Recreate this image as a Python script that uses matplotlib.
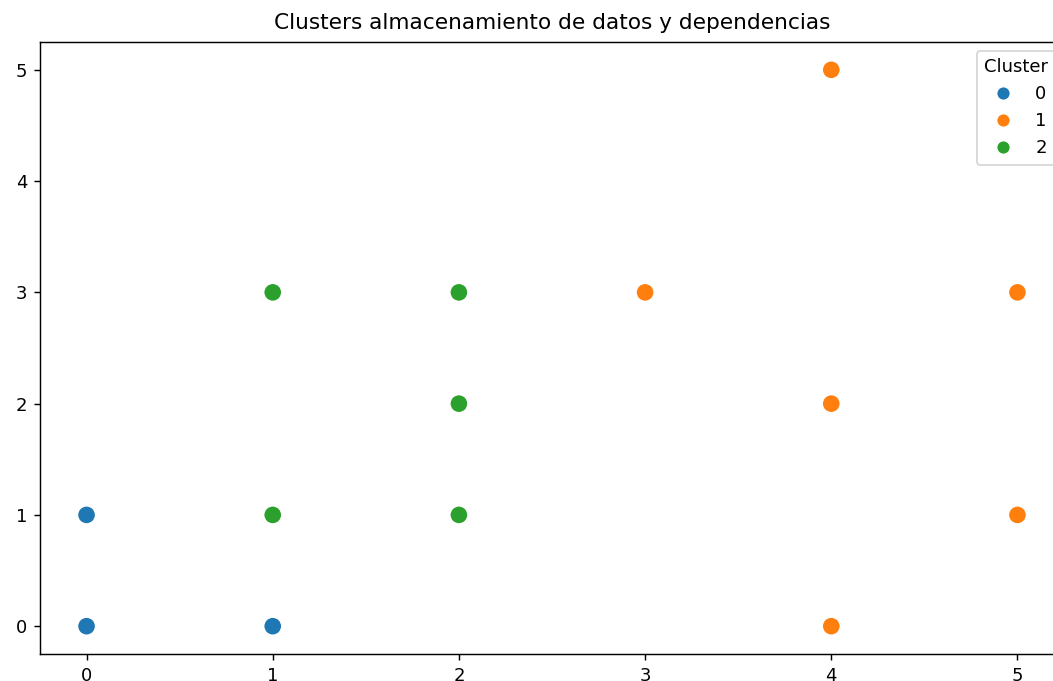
import matplotlib
matplotlib.use("Agg")
import matplotlib.pyplot as plt
from matplotlib.lines import Line2D
import seaborn as sns
import pandas as pd

x_vals = [0, 0, 1, 4, 3, 5, 4, 5, 4, 1, 2, 2, 1, 2]
y_vals = [0, 1, 0, 5, 3, 3, 2, 1, 0, 3, 3, 2, 1, 1]
clusters = [0, 0, 0, 1, 1, 1, 1, 1, 1, 2, 2, 2, 2, 2]
cluster_labels = [0, 1, 2]
colors = ["#1f77b4", "#ff7f0e", "#2ca02c"]

df = pd.DataFrame({"x": x_vals, "y": y_vals, "Cluster": clusters})

DPI = 130
W, H = 1053, 681
fig = plt.figure(figsize=(W / DPI, H / DPI), dpi=DPI)
ax = fig.add_axes([40 / W, (H - 654) / H, 1024 / W, 612 / H])
sns.scatterplot(data=df, x="x", y="y", hue="Cluster", palette=colors, s=100,
                ax=ax, legend=False)
ax.set_title("Clusters almacenamiento de datos y dependencias", pad=7)
ax.set_xlabel("")
ax.set_ylabel("")
ax.set_xticks(range(6))
ax.set_yticks(range(6))
ax.set_xlim(-0.25, 5.25)
ax.set_ylim(-0.25, 5.25)
handles = [Line2D([], [], marker="o", linestyle="", color=c, markeredgecolor="white",
                  markeredgewidth=0.75, markersize=7.5)
           for c in colors]
ax.legend(handles, [str(c) for c in cluster_labels], title="Cluster", loc="upper right")
fig.savefig("out.png", dpi=DPI)
